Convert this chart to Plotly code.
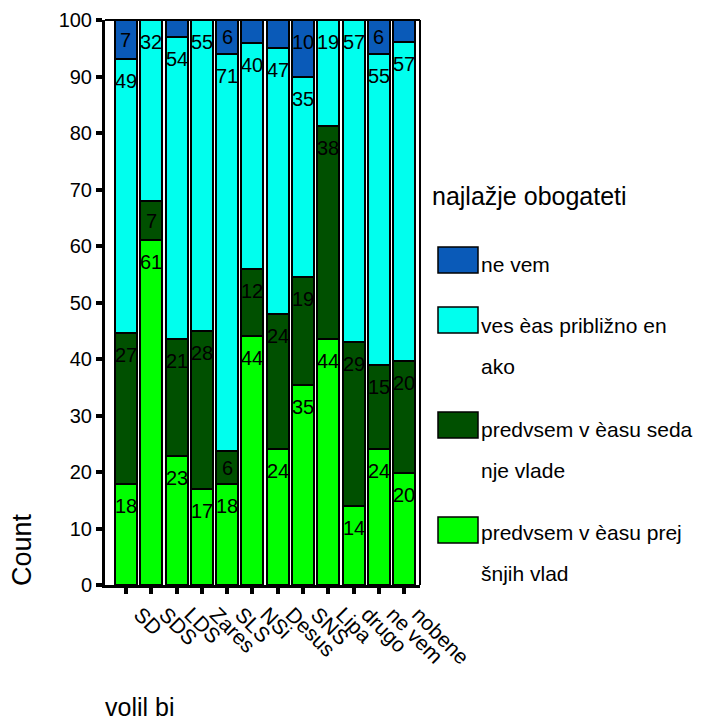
import plotly.graph_objects as go

# ---- data (values as printed on the bars; unlabeled small segments estimated) ----
parties = ["SD", "SDS", "LDS", "Zares", "SLS", "NSi", "Desus", "SNS", "Lipa", "drugo", "ne vem", "nobene"]
prej = [18, 61, 23, 17, 18, 44, 24, 35, 44, 14, 24, 20]      # predvsem v èasu prejšnjih vlad
seda = [27, 7, 21, 28, 6, 12, 24, 19, 38, 29, 15, 20]        # predvsem v èasu sedanje vlade
enako = [49, 32, 54, 55, 71, 40, 47, 35, 19, 57, 55, 57]     # ves èas približno enako
nevem = [7, 0, 3, 0, 6, 4, 5, 10, 0, 0, 6, 4]                # ne vem

series_names = ["predvsem v èasu prejšnjih vlad", "predvsem v èasu sedanje vlade",
                "ves èas približno enako", "ne vem"]
legend_lines = [["predvsem v èasu prej", "šnjih vlad"], ["predvsem v èasu seda", "nje vlade"],
                ["ves èas približno en", "ako"], ["ne vem"]]
colors = ["#00ff00", "#005000", "#00ffee", "#0a5ab8"]
legend_title = "najlažje obogateti"
y_ticks = [0, 10, 20, 30, 40, 50, 60, 70, 80, 90, 100]

# ---- layout constants (page pixels) ----
W, H = 705, 726
OFF = 8                      # default page body margin
L, R, T, B = 105, 420, 20, 585
FONT = "Arial, Liberation Sans, sans-serif"


def px2x(px):
    return (px - L) / (R - L)


def px2y(py):
    return (B - py) / (B - T)


data = [prej, seda, enako, nevem]
totals = [sum(v[i] for v in data) for i in range(len(parties))]
pcts = [[v[i] / totals[i] * 100 for i in range(len(parties))] for v in data]

fig = go.Figure()
for name, pc, col in zip(series_names, pcts, colors):
    fig.add_trace(go.Bar(
        x=parties, y=pc, name=name, showlegend=False,
        marker=dict(color=col, line=dict(color="black", width=2)),
        hoverinfo="x+name",
    ))

# value labels
px_per_unit = (B - T) / 100.0
annotations = []
for i, p in enumerate(parties):
    base = 0.0
    for vals, pc in zip(data, pcts):
        h = pc[i]
        top = base + h
        if vals[i] >= 6:
            off = min(22.0 / px_per_unit, h / 2.0)
            annotations.append(dict(
                x=p, y=top - off, xref="x", yref="y", text=str(vals[i]),
                showarrow=False, font=dict(family=FONT, size=20, color="black"),
                xanchor="center", yanchor="middle"))
        base = top

# axis titles
annotations.append(dict(x=px2x(22), y=px2y(550), xref="paper", yref="paper", text="Count",
                        textangle=-90, showarrow=False,
                        font=dict(family=FONT, size=27, color="black"),
                        xanchor="center", yanchor="middle"))
annotations.append(dict(x=px2x(103), y=px2y(707), xref="paper", yref="paper", text="volil bi",
                        showarrow=False, font=dict(family=FONT, size=25, color="black"),
                        xanchor="left", yanchor="middle"))

# legend (drawn manually)
annotations.append(dict(x=px2x(430), y=px2y(196), xref="paper", yref="paper", text=legend_title,
                        showarrow=False, font=dict(family=FONT, size=25, color="black"),
                        xanchor="left", yanchor="middle"))
shapes = []
swatch_tops = [517, 412, 307, 247]
text_first = [534, 431, 327, 266]
line_gap = 41
for k in range(len(series_names)):
    st = swatch_tops[k]
    shapes.append(dict(type="rect", xref="paper", yref="paper",
                       x0=px2x(438), x1=px2x(478), y0=px2y(st), y1=px2y(st + 26),
                       fillcolor=colors[k], line=dict(color="black", width=1.5)))
    for j, line in enumerate(legend_lines[k]):
        annotations.append(dict(x=px2x(479), y=px2y(text_first[k] + j * line_gap - 2),
                                xref="paper", yref="paper", text=line, showarrow=False,
                                font=dict(family=FONT, size=21, color="black"),
                                xanchor="left", yanchor="middle"))

# frame (top and right)
shapes.append(dict(type="line", xref="paper", yref="paper", x0=0, x1=1, y0=1, y1=1,
                   line=dict(color="black", width=2)))
shapes.append(dict(type="line", xref="paper", yref="paper", x0=1, x1=1, y0=0, y1=1,
                   line=dict(color="black", width=2)))

fig.update_layout(
    width=W - OFF, height=H - OFF,
    margin=dict(l=L - OFF, r=W - R, t=T - OFF, b=H - B, pad=0, autoexpand=False),
    barmode="stack", bargap=0.13,
    plot_bgcolor="white", paper_bgcolor="white",
    font=dict(family=FONT, color="black"),
    annotations=annotations, shapes=shapes,
    showlegend=False,
)
fig.update_xaxes(
    type="category", range=[-0.83, 11.63],
    showline=True, linecolor="black", linewidth=3,
    ticks="outside", ticklen=6, tickwidth=4, tickcolor="black",
    tickangle=45, tickfont=dict(family=FONT, size=21, color="black"),
    ticklabelshift=14,
    showgrid=False, zeroline=False,
)
fig.update_yaxes(
    range=[0, 100], tickvals=y_ticks,
    showline=True, linecolor="black", linewidth=3,
    ticks="outside", ticklen=6, tickwidth=4, tickcolor="black",
    tickfont=dict(family=FONT, size=20, color="black"),
    showgrid=False, zeroline=False,
)

fig.write_html("out.html")
